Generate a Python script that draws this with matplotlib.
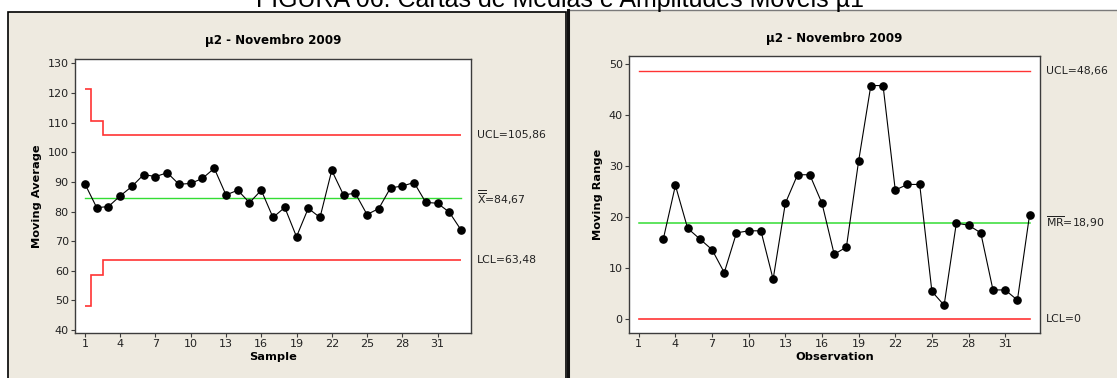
import matplotlib
matplotlib.use("Agg")
import matplotlib.pyplot as plt
from matplotlib.patches import Rectangle
from matplotlib.lines import Line2D

plt.rcParams['font.family'] = ['DejaVu Sans']
plt.rcParams['mathtext.fontset'] = 'dejavusans'

# ---- data -------------------------------------------------------------
samples = list(range(1, 34))
moving_average = [89.3, 81.3, 81.7, 85.3, 88.5, 92.5, 91.8, 93.1, 89.2, 89.5,
                  91.2, 94.6, 85.6, 87.2, 83.0, 87.2, 78.0, 81.4, 71.5, 81.1,
                  78.0, 93.9, 85.6, 86.2, 79.0, 81.0, 88.0, 88.6, 89.8, 83.1,
                  82.8, 79.8, 73.8]
ma_center = 84.67
ma_ucl = [121.37, 110.63, 105.86]
ma_lcl = [47.97, 58.71, 63.48]
ma_limit_edges = [1, 1.5, 2.5, 33]

observations = list(range(3, 34))
moving_range = [15.6, 26.2, 17.8, 15.7, 13.6, 9.1, 16.9, 17.3, 17.3, 7.8,
                22.7, 28.3, 28.3, 22.7, 12.7, 14.1, 31.0, 45.8, 45.8, 25.3,
                26.4, 26.4, 5.4, 2.7, 18.8, 18.4, 16.9, 5.7, 5.7, 3.7, 20.5]
mr_center = 18.90
mr_ucl = 48.66
mr_lcl = 0.0

x_ticks = list(range(1, 34, 3))
chart_title = "µ2 - Novembro 2009"
figure_title = "FIGURA 06: Cartas de Médias e Amplitudes Móveis µ1"

# ---- styling ----------------------------------------------------------
W, H = 1117, 378
PANEL = '#eeeae0'
RED = '#ff3333'
GREEN = '#33dd33'
SPINE = '#3c3c3c'

fig = plt.figure(figsize=(W / 100, H / 100), dpi=100)
fig.patch.set_facecolor('white')


def px_rect(x0, y0, x1, y1):
    """Convert pixel box (top-left origin) to figure fraction [l, b, w, h]."""
    return [x0 / W, 1 - y1 / H, (x1 - x0) / W, (y1 - y0) / H]


# panel backgrounds and borders (behind the axes)
fig.patches.append(Rectangle((8 / W, -0.01), (566 - 8) / W, 1 - 12 / H + 0.01,
                             transform=fig.transFigure, facecolor=PANEL,
                             edgecolor='black', linewidth=1.2, zorder=-2))
fig.patches.append(Rectangle((568 / W, -0.01), (1120 - 568) / W, 1 - 10 / H + 0.01,
                             transform=fig.transFigure, facecolor=PANEL,
                             edgecolor='#7a7a7a', linewidth=1.0, zorder=-2))
fig.add_artist(Line2D([568 / W, 568 / W], [0, 1 - 10 / H], transform=fig.transFigure,
                      color='#111111', linewidth=2.2, zorder=-1))

fig.text(560 / W, 1 - 7 / H, figure_title, ha='center', va='baseline',
         fontsize=18, family='Liberation Sans', color='black')


def style_axes(ax):
    ax.set_facecolor('white')
    for s in ax.spines.values():
        s.set_color(SPINE)
        s.set_linewidth(1.0)
    ax.tick_params(direction='out', length=3, width=0.8, color=SPINE,
                   labelsize=8, labelcolor='#222222', pad=1.5)
    ax.set_xticks(x_ticks)


def side_label(ax, y, text):
    ax.annotate(text, xy=(1, y), xycoords=('axes fraction', 'data'),
                xytext=(6, 0), textcoords='offset pixels', ha='left',
                va='center', fontsize=7.8, color='#222222', annotation_clip=False)


LABEL_KW = dict(fontsize=8.2, fontweight='bold')

# ---- moving average chart --------------------------------------------
ax1 = fig.add_axes(px_rect(75, 59, 471, 333))
style_axes(ax1)
ax1.stairs(ma_ucl, ma_limit_edges, baseline=None, color=RED, linewidth=1.2)
ax1.stairs(ma_lcl, ma_limit_edges, baseline=None, color=RED, linewidth=1.2)
ax1.plot([samples[0], samples[-1]], [ma_center, ma_center], color=GREEN, linewidth=1.0)
ax1.plot(samples, moving_average, color='black', linewidth=0.8, marker='o',
         markersize=5.2, markerfacecolor='black', markeredgecolor='black')
ax1.set_xlim(0.15, 33.85)
ax1.set_ylim(39, 131.5)
ax1.set_yticks(range(40, 131, 10))
ax1.set_xlabel('Sample', labelpad=2, **LABEL_KW)
ax1.set_ylabel('Moving Average', labelpad=4, **LABEL_KW)
ax1.set_title(chart_title, pad=11, fontsize=8.6, fontweight='bold')
side_label(ax1, ma_ucl[-1], 'UCL=105,86')
side_label(ax1, ma_center, r'$\overline{\overline{\mathrm{X}}}$=84,67')
side_label(ax1, ma_lcl[-1], 'LCL=63,48')

# ---- moving range chart ----------------------------------------------
ax2 = fig.add_axes(px_rect(629, 56, 1040, 333))
style_axes(ax2)
ax2.plot([1, 33], [mr_ucl, mr_ucl], color=RED, linewidth=1.0)
ax2.plot([1, 33], [mr_lcl, mr_lcl], color=RED, linewidth=1.2)
ax2.plot([1, 33], [mr_center, mr_center], color=GREEN, linewidth=1.1)
ax2.plot(observations, moving_range, color='black', linewidth=0.8, marker='o',
         markersize=5.2, markerfacecolor='black', markeredgecolor='black')
ax2.set_xlim(0.2, 33.85)
ax2.set_ylim(-2.75, 51.6)
ax2.set_yticks(range(0, 51, 10))
ax2.set_xlabel('Observation', labelpad=2, **LABEL_KW)
ax2.set_ylabel('Moving Range', labelpad=4, **LABEL_KW)
ax2.set_title(chart_title, pad=10, fontsize=8.6, fontweight='bold')
side_label(ax2, mr_ucl, 'UCL=48,66')
side_label(ax2, mr_center, r'$\overline{\mathrm{MR}}$=18,90')
side_label(ax2, mr_lcl, 'LCL=0')

fig.savefig('out.png', dpi=100, facecolor=fig.get_facecolor())
